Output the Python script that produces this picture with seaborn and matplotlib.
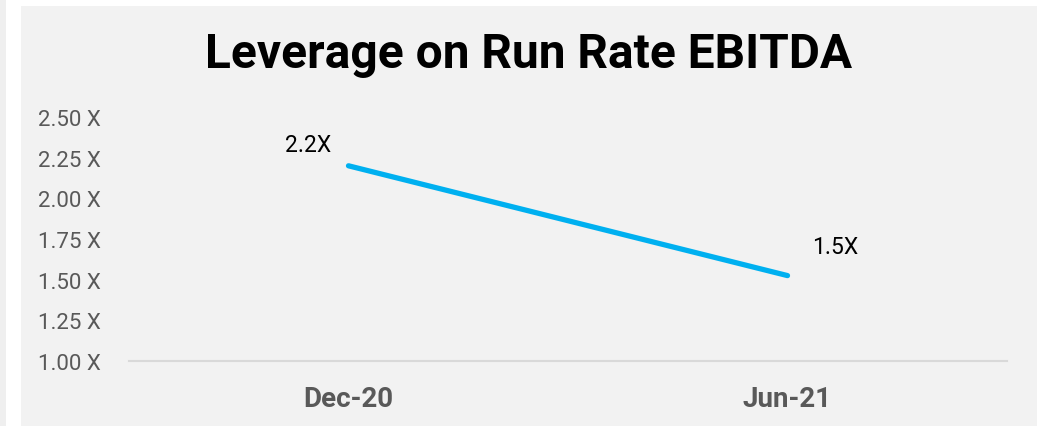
import matplotlib
matplotlib.use("Agg")
import matplotlib.pyplot as plt
import seaborn as sns
import pandas as pd
from matplotlib.patches import Rectangle

categories = ["Dec-20", "Jun-21"]
leverage = [2.20, 1.525]
data_labels = ["2.2X", "1.5X"]
y_ticks = [1.00, 1.25, 1.50, 1.75, 2.00, 2.25, 2.50]
title = "Leverage on Run Rate EBITDA"

df = pd.DataFrame({"period": categories, "leverage": leverage})

sns.set_theme(style="white")
plt.rcParams["font.family"] = ["Roboto", "DejaVu Sans"]

W, H = 1043, 427
fig = plt.figure(figsize=(W / 100, H / 100), dpi=100)
fig.patch.set_facecolor("white")
fig.patches.append(Rectangle((21 / W, 0), (1037 - 21) / W, (H - 7) / H,
                             transform=fig.transFigure, facecolor="#f2f2f2",
                             edgecolor="none", zorder=-10))
fig.patches.append(Rectangle((0, 0), 6 / W, 1, transform=fig.transFigure,
                             facecolor="#efefef", edgecolor="none", zorder=-10))

ax = fig.add_axes([129 / W, 1 - 362 / H, (1007 - 129) / W, (362 - 118) / H])
ax.set_facecolor("none")
ax.set_zorder(1)

sns.lineplot(data=df, x="period", y="leverage", ax=ax, color="#00b0f0",
             linewidth=3.8, solid_capstyle="round", sort=False)

ax.set_xlim(-0.5, 1.5)
ax.set_ylim(1.0, 2.5)
ax.set_yticks(y_ticks)
ax.set_yticklabels([f"{v:.2f} X" for v in y_ticks], color="#595959", fontsize=16)
ax.set_xticks(range(len(categories)))
ax.set_xticklabels(categories, color="#595959", fontsize=20, fontweight="bold")
ax.tick_params(axis="y", length=0, pad=20)
ax.tick_params(axis="x", length=0, pad=17.5)
ax.set_xlabel("")
ax.set_ylabel("")
ax.grid(False)
for s in ["top", "right", "left"]:
    ax.spines[s].set_visible(False)
ax.spines["bottom"].set_color("#d9d9d9")
ax.spines["bottom"].set_linewidth(1.5)

offsets = [(-29, 15), (34, 21)]
for i, (lab, off) in enumerate(zip(data_labels, offsets)):
    ax.annotate(lab, (i, leverage[i]), xytext=off, textcoords="offset points",
                ha="center", va="center", fontsize=16.5, color="black")

fig.text(529 / W, 1 - 55 / H, title, ha="center", va="center",
         fontsize=34.5, fontweight="bold", color="black")

fig.savefig("out.png", dpi=100, facecolor="white")
